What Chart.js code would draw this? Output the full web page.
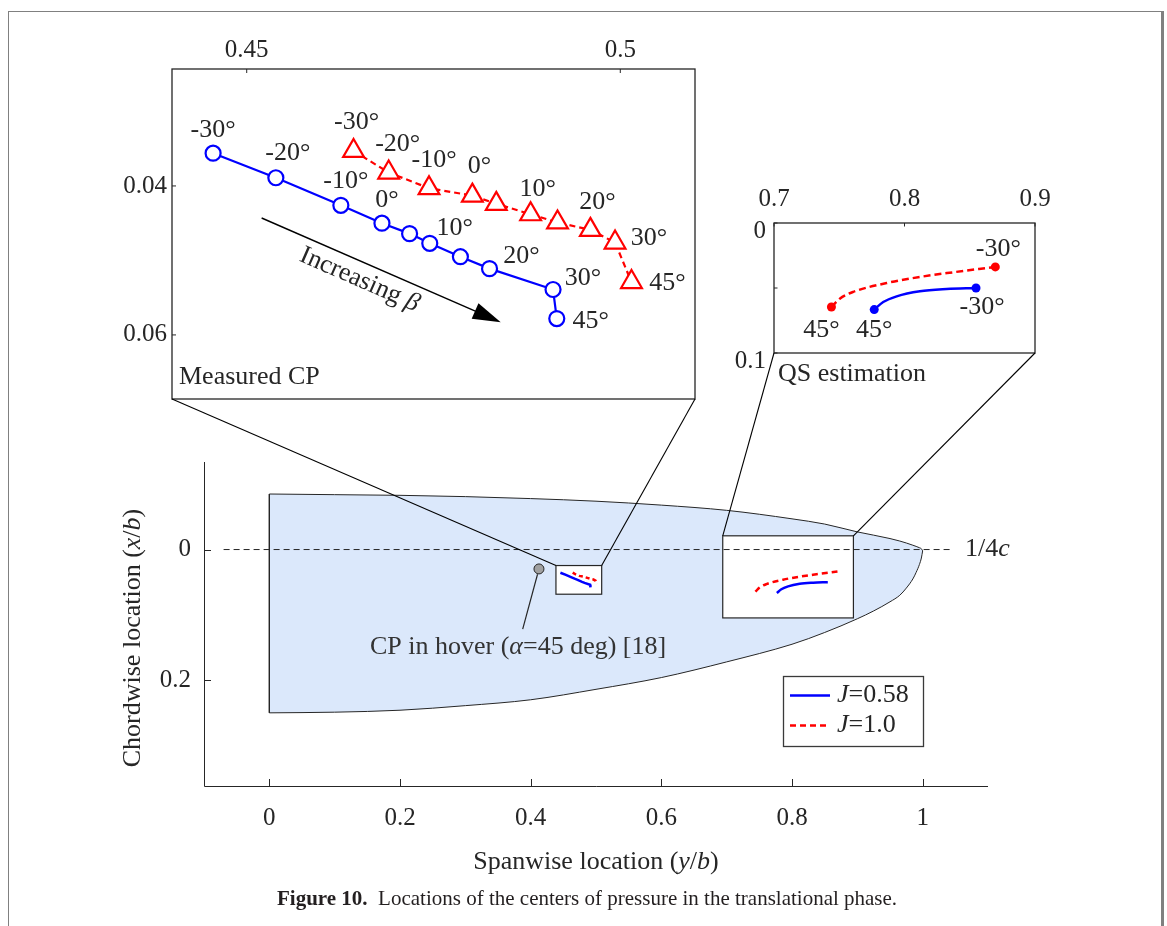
<!DOCTYPE html>
<html>
<head>
<meta charset="utf-8">
<script src="https://cdn.jsdelivr.net/npm/chart.js@4.4.1/dist/chart.umd.min.js"></script>
<style>
html,body{margin:0;padding:0;background:#fff;}
#wrap{position:relative;width:1167px;height:926px;overflow:hidden;background:#fff;}
#wrap canvas{position:absolute;left:0;top:0;}
.fr{position:absolute;background:#808080;}
#caption{position:absolute;left:277px;top:886px;font-family:"Liberation Serif","Times New Roman",serif;font-size:21px;line-height:24px;color:#231f20;white-space:nowrap;}
</style>
</head>
<body>
<div id="wrap">
<canvas id="mainC" width="1167" height="926"></canvas>
<canvas id="in1C" width="1167" height="926"></canvas>
<canvas id="in2C" width="1167" height="926"></canvas>
<div class="fr" style="left:8px;top:11px;width:1155px;height:1px"></div>
<div class="fr" style="left:8px;top:11px;width:1px;height:915px"></div>
<div class="fr" style="left:1161px;top:11px;width:3px;height:915px"></div>
<div id="caption"><b>Figure 10.</b>&nbsp;&nbsp;Locations of the centers of pressure in the translational phase.</div>
</div>
<script>
// ---------------- data ----------------
const mainXRange = [-0.1, 1.1];
const mainYRange = [-0.134, 0.362];
const mainXTicks = [0, 0.2, 0.4, 0.6, 0.8, 1];
const mainYTicks = [0, 0.2];

const inset1XRange = [0.44, 0.51];
const inset1YRange = [0.0243, 0.0686];
const inset1XTicks = [0.45, 0.5];
const inset1YTicks = [0.04, 0.06];

const inset2XRange = [0.7, 0.9];
const inset2YRange = [0, 0.1];
const inset2XTicks = [0.7, 0.8, 0.9];
const inset2YTicks = [0, 0.05, 0.1];
const inset2YTickLabels = ['0', '', '0.1'];

// wing planform (spanwise y/b vs chordwise x/b)
const wingSpan         = [0, 0.1, 0.2, 0.3, 0.4, 0.5, 0.6, 0.7, 0.8, 0.85, 0.9, 0.925, 0.95, 0.965, 0.975, 0.985, 0.99, 0.995, 0.998, 1.0];
const wingLeadingEdge  = [-0.085, -0.084, -0.083, -0.081, -0.078, -0.074, -0.068, -0.060, -0.047, -0.039, -0.027, -0.022, -0.0168, -0.013, -0.010, -0.0066, -0.0048, -0.0028, -0.0012, 0.002];
const wingTrailingEdge = [0.250, 0.249, 0.246, 0.239, 0.230, 0.214, 0.196, 0.172, 0.145, 0.127, 0.106, 0.094, 0.080, 0.070, 0.059, 0.045, 0.035, 0.023, 0.013, 0.002];

const quarterChordX = [-0.07, 1.045];
const quarterChordY = [0, 0];

// zoom windows drawn on the main axes
const zoomBox1X = [0.4387, 0.5087];
const zoomBox1Y = [0.0245, 0.0684];
const zoomBox2X = [0.694, 0.894];
const zoomBox2Y = [-0.021, 0.1047];

// measured CP (beta angles)
const cpAngles = [-30, -20, -10, 0, 5, 10, 15, 20, 30, 45];
const labelledAngles = [-30, -20, -10, 0, 10, 20, 30, 45];
const cpBlueX = [0.4455, 0.4539, 0.4626, 0.4681, 0.4718, 0.4745, 0.4786, 0.4825, 0.4910, 0.4915];
const cpBlueY = [0.0356, 0.0389, 0.0426, 0.0450, 0.0464, 0.0477, 0.0495, 0.0511, 0.0539, 0.0578];
const cpRedX  = [0.4643, 0.4690, 0.4744, 0.4802, 0.4834, 0.4880, 0.4916, 0.4960, 0.4993, 0.5015];
const cpRedY  = [0.0353, 0.0382, 0.0403, 0.0413, 0.0424, 0.0438, 0.0449, 0.0459, 0.0476, 0.0529];

// quasi-steady estimation (from beta = 45 to beta = -30)
const qsEndAngles = [45, -30];
const qsBlueX = [0.7768, 0.7837, 0.7940, 0.8118, 0.8323, 0.8548];
const qsBlueY = [0.0666, 0.0608, 0.0564, 0.0525, 0.0508, 0.0500];
const qsRedX  = [0.7440, 0.7504, 0.7607, 0.7863, 0.8118, 0.8374, 0.8696];
const qsRedY  = [0.0646, 0.0582, 0.0530, 0.0462, 0.0415, 0.0379, 0.0338];

const hoverCPX = [0.4127];
const hoverCPY = [0.0297];

const seriesLabels = ['J=0.58', 'J=1.0'];

// ---------------- style / annotation placement ----------------
const INK = '#262626';
const FONT = '"Liberation Serif","Times New Roman",serif';
const BLUE = '#0000ff', RED = '#ff0000';
const WING_FILL = '#dbe8fb';
const notes = {
  hoverLeaderEnd: {x: 0.3878, y: 0.1219},
  hoverLabel: {x: 0.154, y: 0.149},
  arrowFrom: {x: 0.4520, y: 0.0443},
  arrowTo: {x: 0.4840, y: 0.0583},
  arrowText: {x: 0.4651, y: 0.0526}
};
const blueLabelOffsets = {'-30':[0,-23], '-20':[12,-25], '-10':[5,-24], '0':[5,-23], '10':[25,-15], '20':[32,-12], '30':[30,-11], '45':[34,3]};
const redLabelOffsets  = {'-30':[3,-29], '-20':[9,-28], '-10':[5,-28], '0':[7,-29], '10':[7,-25], '20':[7,-28], '30':[34,-4], '45':[36,1]};
const qsBlueLabelOffsets = [[0,21],[6,19]];
const qsRedLabelOffsets  = [[-10,23],[3,-18]];

// ---------------- helpers ----------------
const pts = (xs, ys) => xs.map((x, i) => ({x: x, y: ys[i]}));
function rich(ctx, parts, x, y, align, size, color) {
  ctx.save();
  ctx.fillStyle = color || INK;
  ctx.textBaseline = 'middle';
  ctx.textAlign = 'left';
  const fonts = parts.map(p => (p[1] ? 'italic ' : '') + size + 'px ' + FONT);
  const widths = parts.map((p, i) => { ctx.font = fonts[i]; return ctx.measureText(p[0]).width; });
  const total = widths.reduce((a, b) => a + b, 0);
  let sx = align === 'center' ? x - total / 2 : (align === 'right' ? x - total : x);
  parts.forEach((p, i) => { ctx.font = fonts[i]; ctx.fillText(p[0], sx, y); sx += widths[i]; });
  ctx.restore();
}
function seg(ctx, x0, y0, x1, y1) { ctx.beginPath(); ctx.moveTo(x0, y0); ctx.lineTo(x1, y1); ctx.stroke(); }
function axisCfg(pos, range, ticks, labels, pad, size, reverse, labelOffset) {
  return {
    type: 'linear', position: pos, min: range[0], max: range[1], reverse: !!reverse,
    afterBuildTicks: s => { s.ticks = ticks.map(v => ({value: v})); },
    afterFit: s => { if (pos === 'top' || pos === 'bottom') s.height = size; else s.width = size; },
    grid: {display: false, drawTicks: false},
    border: {display: false},
    ticks: {
      padding: pad, color: INK, font: {family: FONT, size: 25}, maxRotation: 0, minRotation: 0,
      autoSkip: false, labelOffset: labelOffset || 0,
      callback: (v, i) => labels ? labels[i] : String(v)
    }
  };
}
const baseOptions = (padding, scales) => ({
  responsive: false, animation: false, devicePixelRatio: 1, events: [],
  layout: {padding: padding},
  plugins: {legend: {display: false}, tooltip: {enabled: false}},
  scales: scales
});

// ---------------- main chart ----------------
const mainDeco = {
  id: 'mainDeco',
  afterDatasetDraw(chart, args) {
    if (args.index !== 2) return;
    const xs = chart.scales.x, ys = chart.scales.y, ctx = chart.ctx;
    ctx.save();
    ctx.fillStyle = '#ffffff'; ctx.strokeStyle = INK; ctx.lineWidth = 1.2;
    [[zoomBox1X, zoomBox1Y], [zoomBox2X, zoomBox2Y]].forEach(b => {
      const x0 = xs.getPixelForValue(b[0][0]), x1 = xs.getPixelForValue(b[0][1]);
      const y0 = ys.getPixelForValue(b[1][0]), y1 = ys.getPixelForValue(b[1][1]);
      ctx.fillRect(x0, y0, x1 - x0, y1 - y0);
      ctx.strokeRect(x0, y0, x1 - x0, y1 - y0);
    });
    ctx.restore();
  },
  afterDraw(chart) {
    const ctx = chart.ctx, ca = chart.chartArea, xs = chart.scales.x, ys = chart.scales.y;
    ctx.save();
    ctx.strokeStyle = INK; ctx.lineWidth = 1;
    ctx.beginPath();
    ctx.moveTo(ca.left + 0.5, ca.top); ctx.lineTo(ca.left + 0.5, ca.bottom + 0.5); ctx.lineTo(ca.right, ca.bottom + 0.5);
    ctx.stroke();
    mainXTicks.forEach(v => { const p = Math.round(xs.getPixelForValue(v)) + 0.5; seg(ctx, p, ca.bottom, p, ca.bottom - 7); });
    mainYTicks.forEach(v => { const p = Math.round(ys.getPixelForValue(v)) + 0.5; seg(ctx, ca.left, p, ca.left + 7, p); });
    // axis titles
    rich(ctx, [['Spanwise location (', false], ['y', true], ['/', false], ['b', true], [')', false]], (ca.left + ca.right) / 2, ca.bottom + 76, 'center', 26);
    ctx.save();
    ctx.translate(ca.left - 71, (ca.top + ca.bottom) / 2 + 14);
    ctx.rotate(-Math.PI / 2);
    rich(ctx, [['Chordwise location (', false], ['x', true], ['/', false], ['b', true], [')', false]], 0, 0, 'center', 26);
    ctx.restore();
    // quarter chord label
    rich(ctx, [['1/4', false], ['c', true]], xs.getPixelForValue(quarterChordX[1]) + 13, ys.getPixelForValue(0), 'left', 26);
    // hover CP leader line + label
    const hx = xs.getPixelForValue(hoverCPX[0]), hy = ys.getPixelForValue(hoverCPY[0]);
    const ex = xs.getPixelForValue(notes.hoverLeaderEnd.x), ey = ys.getPixelForValue(notes.hoverLeaderEnd.y);
    const d = Math.hypot(ex - hx, ey - hy);
    ctx.strokeStyle = INK; ctx.lineWidth = 1.2;
    seg(ctx, hx + (ex - hx) / d * 5.5, hy + (ey - hy) / d * 5.5, ex, ey);
    rich(ctx, [['CP in hover (', false], ['\u03b1', true], ['=45 deg) [18]', false]],
      xs.getPixelForValue(notes.hoverLabel.x), ys.getPixelForValue(notes.hoverLabel.y), 'left', 26, '#333333');
    // legend
    const lx = ca.right - 205, ly = ca.bottom - 110, lw = 140, lh = 70;
    ctx.fillStyle = '#ffffff'; ctx.fillRect(lx, ly, lw, lh);
    ctx.strokeStyle = '#3a3a3a'; ctx.lineWidth = 1.3; ctx.strokeRect(lx + 0.5, ly + 0.5, lw, lh);
    [6, 7].forEach((di, k) => {
      const ds = chart.data.datasets[di];
      const yy = ly + 19.5 + k * 30;
      ctx.strokeStyle = ds.borderColor; ctx.lineWidth = 2.5;
      ctx.setLineDash(ds.borderDash || []);
      seg(ctx, lx + 7, yy, lx + 47, yy);
      ctx.setLineDash([]);
      const parts = ds.label.split('=');
      rich(ctx, [[parts[0], true], ['=' + parts[1], false]], lx + 54, yy, 'left', 26);
    });
    ctx.restore();
  }
};

const mainChart = new Chart(document.getElementById('mainC'), {
  type: 'scatter',
  data: {datasets: [
    {label: 'wingLE', data: pts(wingSpan, wingLeadingEdge), showLine: true, fill: '+1', backgroundColor: WING_FILL,
     borderColor: INK, borderWidth: 1, pointRadius: 0, cubicInterpolationMode: 'monotone', order: 12},
    {label: 'wingTE', data: pts(wingSpan, wingTrailingEdge), showLine: true, fill: false,
     borderColor: INK, borderWidth: 1, pointRadius: 0, cubicInterpolationMode: 'monotone', order: 11},
    {label: 'wingRoot', data: [{x: wingSpan[0], y: wingLeadingEdge[0]}, {x: wingSpan[0], y: wingTrailingEdge[0]}],
     showLine: true, fill: false, borderColor: INK, borderWidth: 1, pointRadius: 0, order: 10},
    {label: 'quarterChord', data: pts(quarterChordX, quarterChordY), showLine: true, fill: false,
     borderColor: INK, borderWidth: 1, borderDash: [6, 4], pointRadius: 0, order: 8},
    {label: 'cpBlue', data: pts(cpBlueX, cpBlueY), showLine: true, borderColor: BLUE, borderWidth: 2.5, pointRadius: 0, order: 5},
    {label: 'cpRed', data: pts(cpRedX, cpRedY), showLine: true, borderColor: RED, borderWidth: 2.5, borderDash: [4, 3], pointRadius: 0, order: 5},
    {label: seriesLabels[0], data: pts(qsBlueX, qsBlueY), showLine: true, borderColor: BLUE, borderWidth: 2.5,
     pointRadius: 0, cubicInterpolationMode: 'monotone', order: 5},
    {label: seriesLabels[1], data: pts(qsRedX, qsRedY), showLine: true, borderColor: RED, borderWidth: 2.5, borderDash: [6, 4],
     pointRadius: 0, cubicInterpolationMode: 'monotone', order: 5},
    {label: 'hoverCP', data: pts(hoverCPX, hoverCPY), showLine: false, pointRadius: 5, pointBackgroundColor: '#a0a0a0',
     pointBorderColor: INK, pointBorderWidth: 1, order: 1}
  ]},
  options: baseOptions({left: 124, top: 462, right: 179, bottom: 80}, {
    x: axisCfg('bottom', mainXRange, mainXTicks, null, 17, 60, false),
    y: axisCfg('left', mainYRange, mainYTicks, null, 13, 80, true)
  }),
  plugins: [mainDeco]
});

// ---------------- inset helpers ----------------
function insetFrame(chart, xTicks, yTicks, tickLen) {
  const ctx = chart.ctx, ca = chart.chartArea, xs = chart.scales.x, ys = chart.scales.y;
  ctx.save();
  ctx.strokeStyle = INK; ctx.lineWidth = 1.3;
  ctx.strokeRect(ca.left, ca.top, ca.right - ca.left, ca.bottom - ca.top);
  ctx.lineWidth = 1;
  xTicks.forEach(v => { const p = xs.getPixelForValue(v); seg(ctx, p, ca.top, p, ca.top + tickLen); });
  yTicks.forEach(v => { const p = ys.getPixelForValue(v); seg(ctx, ca.left, p, ca.left + tickLen, p); });
  ctx.restore();
}
function connectors(chart, boxX, boxY) {
  const ctx = chart.ctx, ca = chart.chartArea;
  const mx = mainChart.scales.x, my = mainChart.scales.y;
  ctx.save();
  ctx.strokeStyle = '#000'; ctx.lineWidth = 1.1;
  const ty = my.getPixelForValue(boxY[0]);
  seg(ctx, ca.left, ca.bottom, mx.getPixelForValue(boxX[0]), ty);
  seg(ctx, ca.right, ca.bottom, mx.getPixelForValue(boxX[1]), ty);
  ctx.restore();
}
const whiteBg = {
  id: 'whiteBg',
  beforeDraw(chart) {
    const ca = chart.chartArea, ctx = chart.ctx;
    ctx.save(); ctx.fillStyle = '#ffffff'; ctx.fillRect(ca.left, ca.top, ca.right - ca.left, ca.bottom - ca.top); ctx.restore();
  }
};

// ---------------- inset 1: measured CP ----------------
const inset1Deco = {
  id: 'inset1Deco',
  afterDraw(chart) {
    const ctx = chart.ctx, ca = chart.chartArea, xs = chart.scales.x, ys = chart.scales.y;
    insetFrame(chart, inset1XTicks, inset1YTicks, 4);
    // angle labels
    cpAngles.forEach((a, i) => {
      if (labelledAngles.indexOf(a) < 0) return;
      const ob = blueLabelOffsets[String(a)], orr = redLabelOffsets[String(a)];
      rich(ctx, [[a + '\u00b0', false]], xs.getPixelForValue(cpBlueX[i]) + ob[0], ys.getPixelForValue(cpBlueY[i]) + ob[1], 'center', 26);
      rich(ctx, [[a + '\u00b0', false]], xs.getPixelForValue(cpRedX[i]) + orr[0], ys.getPixelForValue(cpRedY[i]) + orr[1], 'center', 26);
    });
    // arrow
    const ax0 = xs.getPixelForValue(notes.arrowFrom.x), ay0 = ys.getPixelForValue(notes.arrowFrom.y);
    const ax1 = xs.getPixelForValue(notes.arrowTo.x), ay1 = ys.getPixelForValue(notes.arrowTo.y);
    const ang = Math.atan2(ay1 - ay0, ax1 - ax0), c = Math.cos(ang), s = Math.sin(ang);
    const L = 28, W = 8.5;
    ctx.save();
    ctx.strokeStyle = '#000'; ctx.fillStyle = '#000'; ctx.lineWidth = 1.4;
    seg(ctx, ax0, ay0, ax1 - c * (L - 4), ay1 - s * (L - 4));
    ctx.beginPath();
    ctx.moveTo(ax1, ay1);
    ctx.lineTo(ax1 - L * c + W * s, ay1 - L * s - W * c);
    ctx.lineTo(ax1 - L * c - W * s, ay1 - L * s + W * c);
    ctx.closePath(); ctx.fill();
    ctx.translate(xs.getPixelForValue(notes.arrowText.x), ys.getPixelForValue(notes.arrowText.y));
    ctx.rotate(ang);
    rich(ctx, [['Increasing ', false], ['\u03b2', true]], 0, 0, 'center', 26);
    ctx.restore();
    rich(ctx, [['Measured CP', false]], ca.left + 7, ca.bottom - 22, 'left', 26);
    connectors(chart, zoomBox1X, zoomBox1Y);
  }
};
new Chart(document.getElementById('in1C'), {
  type: 'scatter',
  data: {datasets: [
    {label: 'J=0.58', data: pts(cpBlueX, cpBlueY), showLine: true, borderColor: BLUE, borderWidth: 2.2,
     pointStyle: 'circle', pointRadius: 7.5, pointBorderWidth: 2.2, pointBorderColor: BLUE, pointBackgroundColor: '#ffffff'},
    {label: 'J=1.0', data: pts(cpRedX, cpRedY), showLine: true, borderColor: RED, borderWidth: 2.2, borderDash: [6, 4],
     pointStyle: 'triangle', pointRadius: 12, pointBorderWidth: 2.2, pointBorderColor: RED, pointBackgroundColor: '#ffffff'}
  ]},
  options: baseOptions({left: 112, top: 29, right: 472, bottom: 527}, {
    x: axisCfg('top', inset1XRange, inset1XTicks, null, 4, 40, false),
    y: axisCfg('left', inset1YRange, inset1YTicks, null, 5, 60, true)
  }),
  plugins: [whiteBg, inset1Deco]
});

// ---------------- inset 2: QS estimation ----------------
const inset2Deco = {
  id: 'inset2Deco',
  afterDraw(chart) {
    const ctx = chart.ctx, ca = chart.chartArea, xs = chart.scales.x, ys = chart.scales.y;
    insetFrame(chart, inset2XTicks, inset2YTicks, 3.5);
    [[qsBlueX, qsBlueY, qsBlueLabelOffsets], [qsRedX, qsRedY, qsRedLabelOffsets]].forEach(sr => {
      const n = sr[0].length;
      [0, n - 1].forEach((idx, k) => {
        const o = sr[2][k];
        rich(ctx, [[qsEndAngles[k] + '\u00b0', false]], xs.getPixelForValue(sr[0][idx]) + o[0], ys.getPixelForValue(sr[1][idx]) + o[1], 'center', 26);
      });
    });
    rich(ctx, [['QS estimation', false]], ca.left + 4, ca.bottom + 21, 'left', 26);
    connectors(chart, zoomBox2X, zoomBox2Y);
  }
};
const endOnly = r => (ctx => (ctx.dataIndex === 0 || ctx.dataIndex === ctx.dataset.data.length - 1) ? r : 0);
new Chart(document.getElementById('in2C'), {
  type: 'scatter',
  data: {datasets: [
    {label: 'J=0.58', data: pts(qsBlueX, qsBlueY), showLine: true, borderColor: BLUE, borderWidth: 2.5,
     cubicInterpolationMode: 'monotone', pointRadius: endOnly(4.5), pointBackgroundColor: BLUE, pointBorderColor: BLUE, pointBorderWidth: 0},
    {label: 'J=1.0', data: pts(qsRedX, qsRedY), showLine: true, borderColor: RED, borderWidth: 2.5, borderDash: [7, 4],
     cubicInterpolationMode: 'monotone', pointRadius: endOnly(4.5), pointBackgroundColor: RED, pointBorderColor: RED, pointBorderWidth: 0}
  ]},
  options: baseOptions({left: 714, top: 183, right: 132, bottom: 573}, {
    x: axisCfg('top', inset2XRange, inset2XTicks, null, 9, 40, false),
    y: axisCfg('left', inset2YRange, inset2YTicks, inset2YTickLabels, 8, 60, true, 8)
  }),
  plugins: [whiteBg, inset2Deco]
});
</script>
</body>
</html>
